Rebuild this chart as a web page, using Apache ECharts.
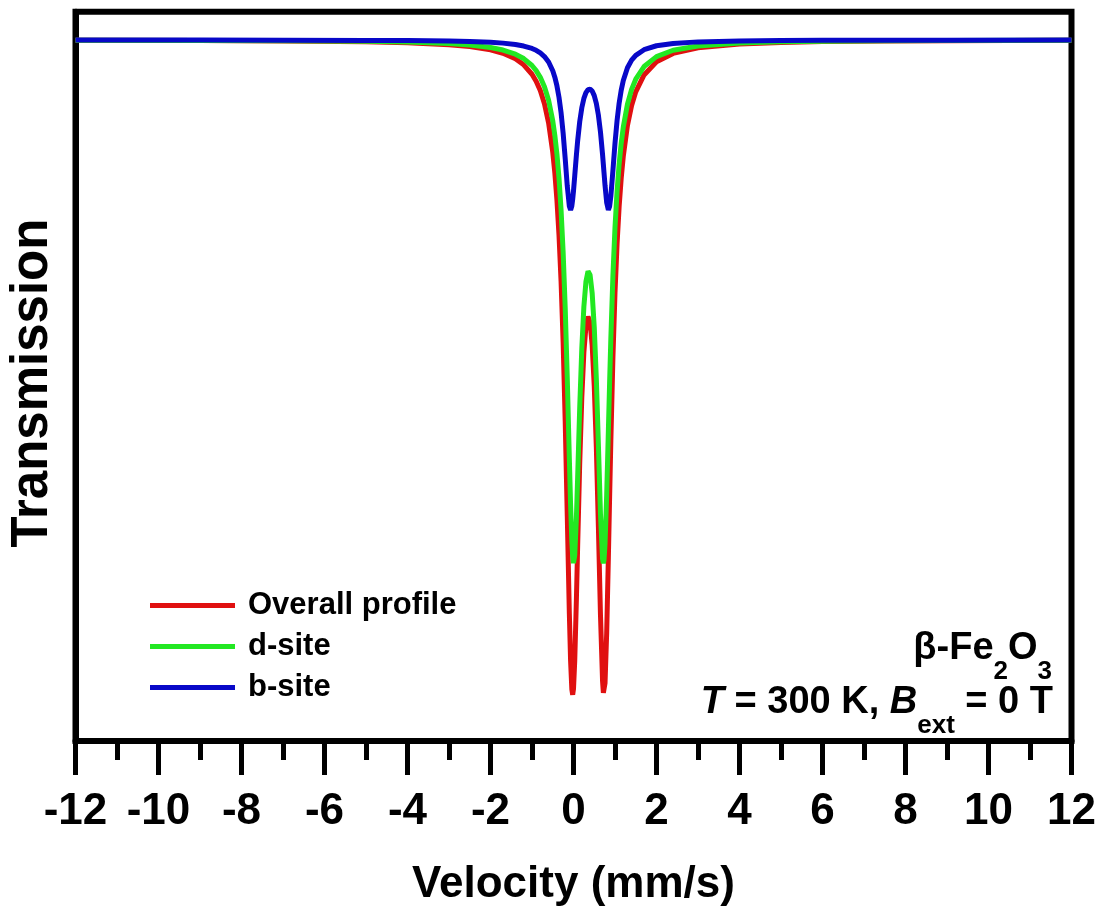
<!DOCTYPE html>
<html>
<head>
<meta charset="utf-8">
<script src="https://cdn.jsdelivr.net/npm/echarts@6/dist/echarts.min.js"></script>
<style>html,body{margin:0;padding:0;background:#fff}#c{width:1105px;height:917px}</style>
</head>
<body>
<div id="c"></div>
<script>
// Velocity (mm/s)
const velocity = [-12, -9, -7, -5, -4, -3, -2.5, -2, -1.7, -1.4, -1.2, -1.0, -0.9, -0.8, -0.7, -0.6, -0.5, -0.45, -0.4, -0.35, -0.3, -0.25, -0.2, -0.15, -0.1, -0.07, -0.04, -0.02, 0, 0.03, 0.07, 0.1, 0.15, 0.2, 0.25, 0.3, 0.35, 0.375, 0.4, 0.45, 0.5, 0.55, 0.6, 0.65, 0.7, 0.72, 0.735, 0.76, 0.8, 0.84, 0.87, 0.9, 0.95, 1.0, 1.05, 1.1, 1.15, 1.2, 1.3, 1.4, 1.5, 1.7, 2.0, 2.4, 3.0, 4.0, 5, 6, 7.5, 9, 12];
// Relative transmission (%)
const overall = [99.987, 99.976, 99.962, 99.927, 99.889, 99.811, 99.735, 99.603, 99.467, 99.245, 99.006, 98.628, 98.35, 97.974, 97.448, 96.683, 95.512, 94.684, 93.613, 92.214, 90.364, 87.921, 84.766, 80.958, 77.048, 75.162, 74.026, 73.809, 74.048, 75.17, 77.629, 79.752, 83.087, 85.705, 87.502, 88.551, 88.934, 88.89, 88.689, 87.789, 86.163, 83.723, 80.517, 77.007, 74.356, 73.883, 73.816, 74.275, 76.301, 79.283, 81.689, 83.986, 87.3, 89.89, 91.856, 93.341, 94.474, 95.349, 96.58, 97.379, 97.925, 98.602, 99.125, 99.461, 99.689, 99.841, 99.903, 99.935, 99.959, 99.972, 99.985];
const dSite = [99.99, 99.982, 99.971, 99.944, 99.915, 99.856, 99.799, 99.698, 99.597, 99.431, 99.255, 98.978, 98.775, 98.504, 98.128, 97.586, 96.765, 96.189, 95.452, 94.488, 93.216, 91.526, 89.296, 86.468, 83.245, 81.407, 79.954, 79.337, 79.076, 79.386, 80.895, 82.502, 85.31, 87.664, 89.335, 90.34, 90.75, 90.743, 90.6, 89.874, 88.515, 86.467, 83.81, 81.038, 79.24, 79.07, 79.189, 79.843, 81.819, 84.36, 86.289, 88.072, 90.578, 92.502, 93.951, 95.042, 95.875, 96.518, 97.428, 98.021, 98.429, 98.936, 99.332, 99.587, 99.761, 99.877, 99.925, 99.95, 99.969, 99.979, 99.988];
const bSite = [99.997, 99.994, 99.991, 99.983, 99.974, 99.955, 99.938, 99.906, 99.873, 99.818, 99.757, 99.66, 99.586, 99.484, 99.338, 99.118, 98.768, 98.511, 98.171, 97.714, 97.098, 96.279, 95.254, 94.155, 93.35, 93.202, 93.362, 93.617, 93.96, 94.566, 95.398, 95.964, 96.734, 97.286, 97.66, 97.892, 98.012, 98.034, 98.032, 97.956, 97.773, 97.463, 96.991, 96.317, 95.42, 95.01, 94.695, 94.175, 93.49, 93.203, 93.34, 93.751, 94.784, 95.868, 96.779, 97.476, 97.994, 98.379, 98.888, 99.192, 99.386, 99.61, 99.768, 99.862, 99.923, 99.961, 99.977, 99.984, 99.99, 99.993, 99.996];
const seriesNames = ['Overall profile', 'd-site', 'b-site'];
const seriesColors = ['#e01010', '#22e822', '#0808c8'];
const xRange = [-12, 12];
const xStep = 2;
const yRange = [71.96, 101.13];

const F = "'Liberation Sans', Arial, Helvetica, sans-serif";
const chart = echarts.init(document.getElementById('c'), null, {renderer: 'canvas'});

function pairs(ys) { return velocity.map((v, i) => [v, ys[i]]); }
const seriesData = [overall, dSite, bSite];

const main = {fontSize: 38, fontWeight: 'bold', fontFamily: F, fill: '#000', lineHeight: 38, verticalAlign: 'top'};
const sub = {fontSize: 26, fontWeight: 'bold', fontFamily: F, fill: '#000', lineHeight: 55, verticalAlign: 'bottom'};

chart.setOption({
  animation: false,
  backgroundColor: '#fff',
  grid: {left: 75.5, right: 33.5, top: 11.7, bottom: 176, show: true, borderColor: '#000', borderWidth: 6, backgroundColor: 'transparent'},
  legend: {
    data: seriesNames, orient: 'vertical', left: 145, top: 585,
    itemWidth: 85, itemHeight: 5, itemGap: 10, icon: 'rect',
    textStyle: {fontSize: 31, fontWeight: 'bold', color: '#000', fontFamily: F, padding: [0, 0, 0, 8]}
  },
  xAxis: {
    type: 'value', min: xRange[0], max: xRange[1], interval: xStep,
    axisLine: {show: true, onZero: false, lineStyle: {color: '#000', width: 6}},
    axisTick: {show: true, inside: false, length: 34, lineStyle: {color: '#000', width: 5}},
    minorTick: {show: true, splitNumber: 2, length: 19, lineStyle: {color: '#000', width: 5}},
    splitLine: {show: false}, minorSplitLine: {show: false},
    axisLabel: {fontSize: 44, fontWeight: 'bold', color: '#000', fontFamily: F, margin: 49},
    name: 'Velocity (mm/s)', nameLocation: 'middle', nameGap: 122,
    nameTextStyle: {fontSize: 44, fontWeight: 'bold', color: '#000', fontFamily: F}
  },
  yAxis: {
    type: 'value', min: yRange[0], max: yRange[1],
    axisLine: {show: true, onZero: false, lineStyle: {color: '#000', width: 6}},
    axisTick: {show: false}, axisLabel: {show: false}, splitLine: {show: false}
  },
  series: seriesNames.map((n, i) => ({
    name: n, type: 'line', data: pairs(seriesData[i]), showSymbol: false, symbol: 'none',
    lineStyle: {color: seriesColors[i], width: 5}, itemStyle: {color: seriesColors[i]},
    z: 2 + i, clip: true
  })),
  graphic: [
    {type: 'text', x: 33, y: 383, rotation: Math.PI / 2, z: 100, style: {
      text: 'Transmission', fontSize: 51, fontWeight: 'bold', fontFamily: F, fill: '#000',
      align: 'center', verticalAlign: 'middle'
    }},
    {type: 'text', right: 53, top: 630, z: 100, style: {
      text: '{a|β-Fe}{s|2}{a|O}{s|3}',
      rich: {a: main, s: sub}
    }},
    {type: 'text', right: 52, top: 684, z: 100, style: {
      text: '{i|T}{a| = 300 K, }{i|B}{s|ext}{a| = 0 T}',
      rich: {a: main, i: Object.assign({}, main, {fontStyle: 'italic'}), s: sub}
    }}
  ]
});
</script>
</body>
</html>
